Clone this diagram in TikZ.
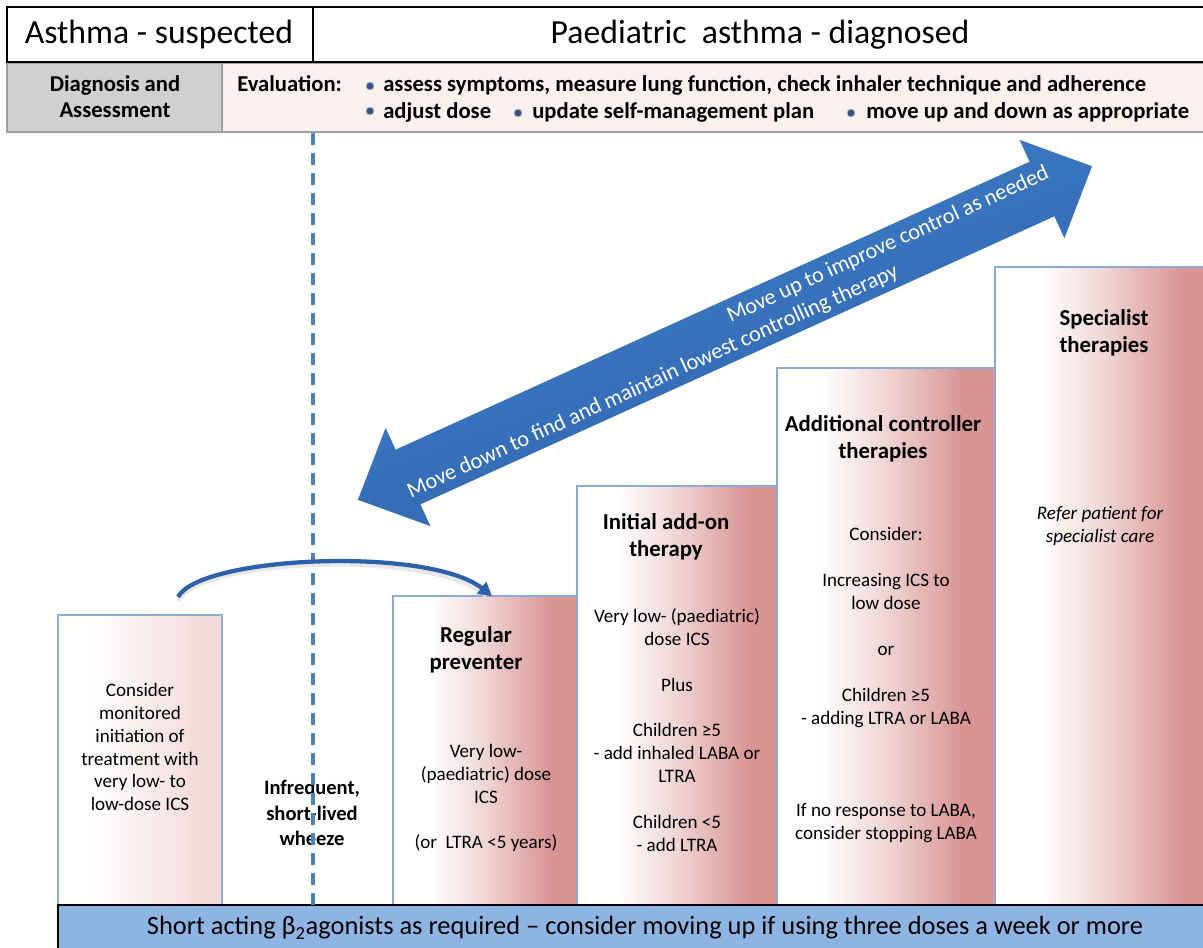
\documentclass[tikz,border=0pt]{standalone}
\usepackage{fontspec}
\setmainfont{Carlito}
\usetikzlibrary{arrows.meta,calc}
\definecolor{stepred}{RGB}{217,149,148}
\definecolor{lightred}{RGB}{242,220,219}
\definecolor{boxline}{RGB}{141,170,212}
\definecolor{dashblue}{RGB}{79,129,189}
\definecolor{arrowA}{RGB}{66,130,206}
\definecolor{arrowB}{RGB}{44,96,168}
\definecolor{barblue}{RGB}{142,180,227}
\definecolor{evalpink}{RGB}{250,240,239}
\definecolor{diaggray}{RGB}{208,208,208}
\definecolor{bulletblue}{RGB}{52,82,130}
\newlength\bsk \setlength\bsk{17.2pt}
\newcommand\gradbox[6]{%
  \pgfmathsetmacro\gxa{#1+0.2*(#3-#1)}%
  \pgfmathsetmacro\gxb{#1+0.5*(#3-#1)}%
  \pgfmathsetmacro\gxc{#1+0.85*(#3-#1)}%
  \fill[white] (#1,#2) rectangle (\gxa+0.5,#4);
  \fill[left color=white,right color=#5] (\gxa,#2) rectangle (\gxb+0.5,#4);
  \fill[left color=#5,right color=#6] (\gxb,#2) rectangle (\gxc+0.5,#4);
  \fill[#6] (\gxc,#2) rectangle (#3,#4);
  \draw[boxline, line width=1pt] (#1,#4) -- (#1,#2) -- (#3,#2) -- (#3,#4);
}
\tikzset{
  headtxt/.style={inner sep=0pt, font=\fontsize{25.3}{30}\selectfont},
  evaltxt/.style={inner sep=0pt, font=\bfseries\fontsize{17}{19.5}\selectfont},
  diagtxt/.style={inner sep=0pt, align=center, font=\bfseries\fontsize{17}{19.5}\selectfont},
  titletxt/.style={inner sep=0pt, align=center, font=\bfseries\fontsize{17.1}{20.4}\selectfont},
  bodytxt/.style={inner sep=0pt, align=center, font=\fontsize{14.3}{17.2}\selectfont},
  wheezetxt/.style={inner sep=0pt, align=center, font=\bfseries\fontsize{15.4}{19}\selectfont},
  arrowtxt/.style={inner sep=0pt, text=white, rotate=24.43, font=\fontsize{16.7}{20}\selectfont},
  bartxt/.style={inner sep=0pt, font=\fontsize{19.8}{23}\selectfont},
  bulletdot/.style={circle, inner sep=0pt, minimum size=6pt, fill=bulletblue, draw=gray!50, line width=0.6pt},
}
\begin{document}
\begin{tikzpicture}[x=0.75pt,y=-0.75pt]
\useasboundingbox (0,0) rectangle (1203,947);
\fill[white] (0,0) rectangle (1203,947);

% ---- header rows
\fill[diaggray] (7,63) rectangle (222,132);
\fill[evalpink] (222,63) rectangle (1210,132);
\draw[gray!75, line width=0.8pt] (7,63) rectangle (222,132);
\draw[gray!75, line width=0.8pt] (222,63) rectangle (1210,132);
\draw[black, line width=1.6pt] (7,7) rectangle (1210,62);
\draw[black, line width=1.6pt] (313,7) -- (313,62);
\node[headtxt] (hsus) at (159,35) {Asthma - suspected};
\node[headtxt] (hdia) at (760,35) {Paediatric\ \ asthma - diagnosed};
\node[diagtxt] (diag) at (115,97) {Diagnosis and\\Assessment};
\node[evaltxt, anchor=base west] (eval) at (237,91) {Evaluation:};
\node[bulletdot] (b1) at (370,86) {};
\node[evaltxt, anchor=base west] (e1) at (383,91) {assess symptoms, measure lung function, check inhaler technique and adherence};
\node[bulletdot] (b2) at (370,111) {};
\node[evaltxt, anchor=base west] (e2) at (383,118) {adjust dose};
\node[bulletdot] (b3) at (518,113) {};
\node[evaltxt, anchor=base west] (e3) at (532,118) {update self-management plan};
\node[bulletdot] (b4) at (851,113) {};
\node[evaltxt, anchor=base west] (e4) at (866,118) {move up and down as appropriate};

% ---- step boxes
\gradbox{58}{615}{222}{905}{lightred!45}{lightred}
\gradbox{393}{596}{577}{905}{stepred!40}{stepred}
\gradbox{577}{486}{777}{905}{stepred!40}{stepred}
\gradbox{777}{368}{995}{905}{stepred!40}{stepred}
\gradbox{995}{267}{1215}{905}{stepred!40}{stepred}

\node[bodytxt] (lbody) at (140,747) {Consider\\monitored\\initiation of\\treatment with\\very low- to\\low-dose ICS};
\node[wheezetxt] (wheeze) at (312,813) {Infrequent,\\short-lived\\wheeze};

\node[titletxt] (rtitle) at (476,650) {Regular\\preventer};
\node[bodytxt] (rbody) at (486,798) {Very low-\\(paediatric) dose\\ICS\\[\bsk](or\ \ LTRA <5 years)};

\node[titletxt] (ititle) at (666,537) {Initial add-on\\therapy};
\node[bodytxt] (ibody) at (677,730) {Very low- (paediatric)\\dose ICS\\[\bsk]Plus\\[\bsk]Children ≥5\\- add inhaled LABA or\\LTRA\\[\bsk]Children <5\\- add LTRA};

\node[titletxt] (atitle) at (883,439) {Additional controller\\therapies};
\node[bodytxt] (abody) at (886,685) {Consider:\\[\bsk]Increasing ICS to\\low dose\\[\bsk]or\\[\bsk]Children ≥5\\- adding LTRA or LABA\\[3\bsk]If no response to LABA,\\consider stopping LABA};

\node[titletxt] (stitle) at (1104,333) {Specialist\\therapies};
\node[bodytxt, font=\itshape\fontsize{14.3}{17.2}\selectfont] (sbody) at (1100,526) {Refer patient for\\specialist care};

% ---- bottom bar
\fill[barblue] (58,905) rectangle (1215,955);
\draw[black, line width=1.5pt] (58,955) -- (58,905) -- (1215,905);
\node[bartxt] (bar) at (645,928) {Short acting β\textsubscript{2}agonists as required – consider moving up if using three doses a week or more};

% ---- dashed divider
\coordinate (dtop) at (313,133);
\coordinate (dbot) at (313,905);
\draw[dashblue, line width=2.4pt, dash pattern=on 9pt off 6pt] (dtop) -- (dbot);

% ---- curved arrow
\coordinate (cstart) at (178,597);
\coordinate (cend) at (492,596);
\draw[gray!18, line width=3pt, line cap=round] ($(cstart)+(1,3)$) .. controls (201,559) and (429,549) .. ($(cend)+(-7,-1)$);
\draw[arrowB, line width=3.2pt, -{Triangle[length=10pt,width=11pt]}] (cstart) .. controls (200,556) and (428,546) .. (cend);

% ---- big double arrow
\coordinate (ltip) at (357.9,499.8);
\coordinate (lbu) at (385.6,427.9);
\coordinate (lnu) at (395.6,449.7);
\coordinate (rnu) at (1029.6,161.7);
\coordinate (rbu) at (1019.6,139.9);
\coordinate (rtip) at (1092,166.2);
\coordinate (rbl) at (1064.4,238.1);
\coordinate (rnl) at (1054.4,216.3);
\coordinate (lnl) at (420.4,504.3);
\coordinate (lbl) at (430.4,526.1);
\fill[gray!30, opacity=0.5, shift={(2,3)}] (ltip) -- (lbu) -- (lnu) -- (rnu) -- (rbu) -- (rtip) -- (rbl) -- (rnl) -- (lnl) -- (lbl) -- cycle;
\shade[top color=arrowA, bottom color=arrowB, shading angle=20] (ltip) -- (lbu) -- (lnu) -- (rnu) -- (rbu) -- (rtip) -- (rbl) -- (rnl) -- (lnl) -- (lbl) -- cycle;
\node[arrowtxt] (up) at (888,245) {Move up to improve control as needed};
\node[arrowtxt] (down) at (653,382) {Move down to find and maintain lowest controlling therapy};
\end{tikzpicture}
\end{document}
